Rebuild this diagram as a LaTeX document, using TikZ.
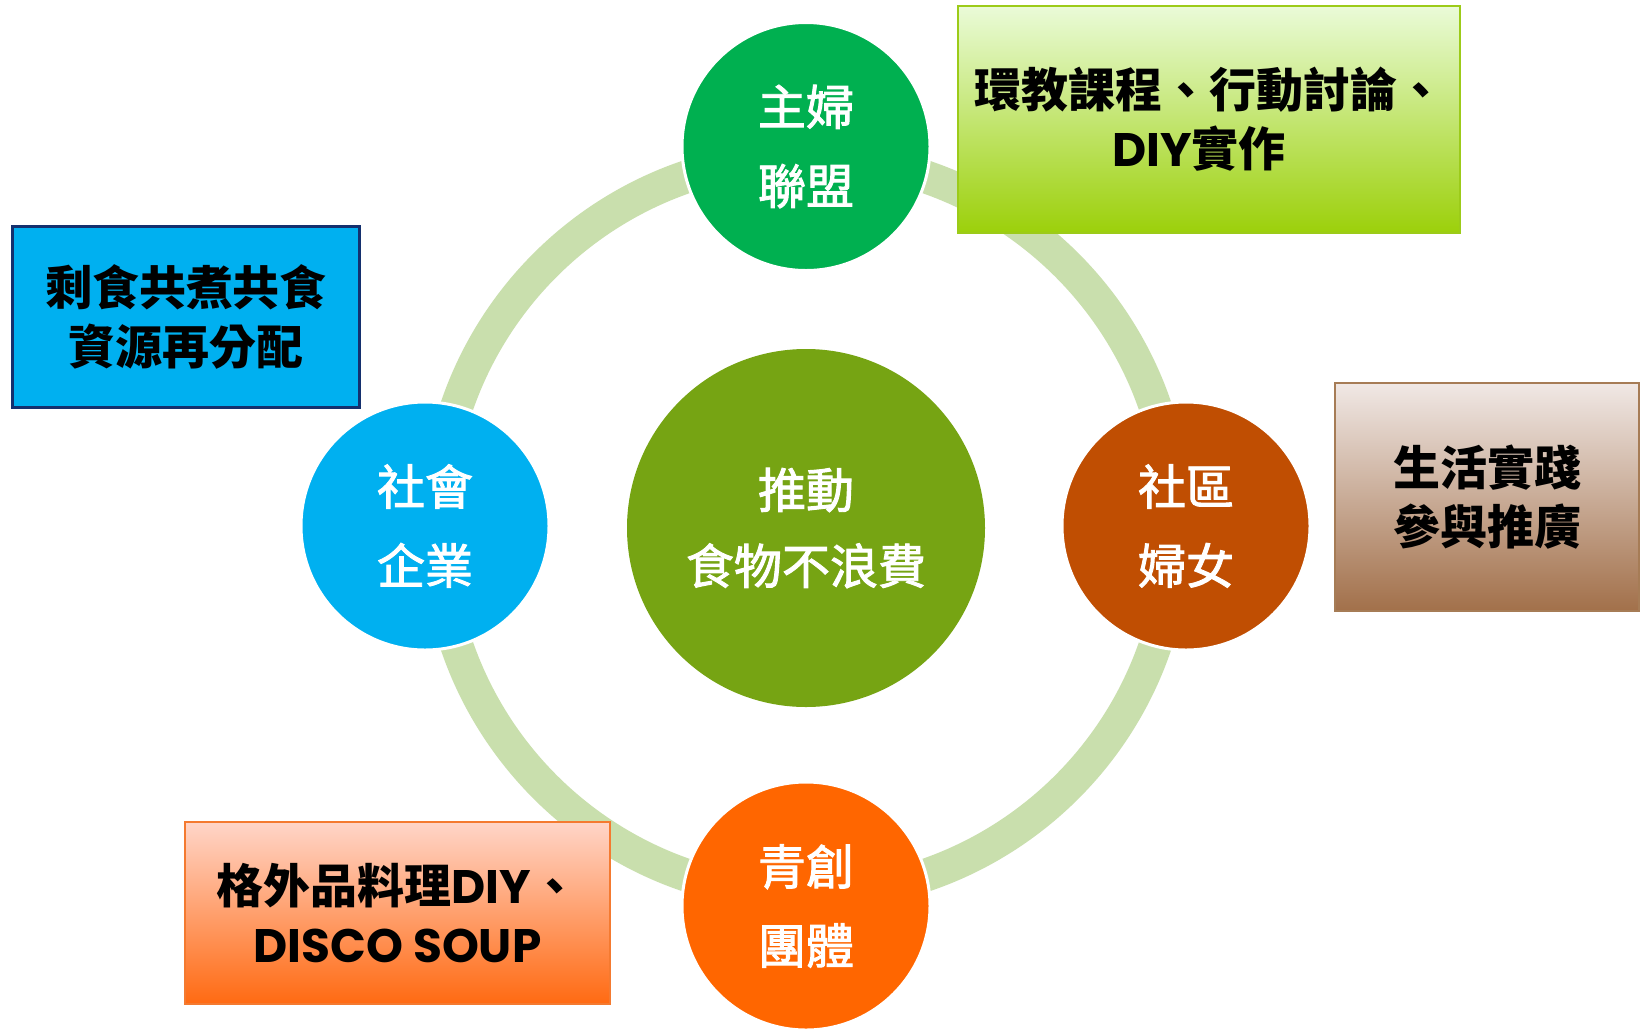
\documentclass[tikz,border=0pt]{standalone}
\usepackage{fontspec}
\setmainfont{Noto Sans CJK TC}
\newfontfamily\cjkmed{Noto Sans CJK TC}[FakeBold=2]
\newfontfamily\latb{Poppins}
\definecolor{ringc}{HTML}{C9DFAD}
\definecolor{hubc}{HTML}{76A413}
\definecolor{topc}{HTML}{00B050}
\definecolor{leftc}{HTML}{00B0F0}
\definecolor{rightc}{HTML}{C04E02}
\definecolor{botc}{HTML}{FF6600}
\definecolor{gt}{HTML}{EAFBD8}
\definecolor{gm}{HTML}{C8F474}
\definecolor{gb}{HTML}{9CD00A}
\definecolor{gbord}{HTML}{9CCB19}
\definecolor{bt}{HTML}{F0E8E5}
\definecolor{bm}{HTML}{D6B39D}
\definecolor{bb}{HTML}{A2704A}
\definecolor{bbord}{HTML}{A67C56}
\definecolor{ot}{HTML}{FFD5C8}
\definecolor{om}{HTML}{FF9A6A}
\definecolor{ob}{HTML}{FF6A12}
\definecolor{obord}{HTML}{F47A30}
\definecolor{blbord}{HTML}{14306E}
\begin{document}
\begin{tikzpicture}[x=1pt,y=-1pt,
  ring/.style={draw=ringc, line width=33pt},
  bubble/.style={circle, draw=white, line width=3pt, minimum size=248pt, inner sep=0pt,
    text=white, align=center, font=\cjkmed\fontsize{48}{79}\selectfont},
  infobox/.style={rectangle, inner sep=0pt, align=center,
    font=\bfseries\fontsize{47}{59}\selectfont, text=black}]
\useasboundingbox (0,0) rectangle (1641,1029);
\fill[white] (0,0) rectangle (1641,1029);
\coordinate (o) at (806,526);
\draw[ring] (o) circle (369pt);
\node[circle, fill=hubc, minimum size=358pt, inner sep=0pt, text=white, align=center,
  font=\cjkmed\fontsize{48}{76}\selectfont] (hub) at (806,528) {推動\\食物不浪費};
\node[bubble, fill=topc] (top) at (806,146.5) {主婦\\聯盟};
\node[bubble, fill=leftc] (left) at (425,526) {社會\\企業};
\node[bubble, fill=rightc] (right) at (1186,526) {社區\\婦女};
\node[bubble, fill=botc] (bot) at (806,906) {青創\\團體};
\node[infobox, draw=gbord, line width=2pt, top color=gt, middle color=gm, bottom color=gb,
  minimum width=502pt, minimum height=227pt] (gbox) at (1209,119.5)
  {環教課程、行動討論、\\{\latb\bfseries DIY}實作\hspace*{20pt}};
\node[infobox, draw=blbord, line width=3pt, fill=leftc,
  minimum width=347pt, minimum height=181pt] (lbox) at (186,316.5)
  {剩食共煮共食\\資源再分配};
\node[infobox, draw=bbord, line width=2pt, top color=bt, middle color=bm, bottom color=bb,
  minimum width=304pt, minimum height=228pt] (rbox) at (1487,497)
  {生活實踐\\參與推廣};
\node[infobox, draw=obord, line width=2pt, top color=ot, middle color=om, bottom color=ob,
  minimum width=425pt, minimum height=182pt] (obox) at (397.5,913)
  {格外品料理{\latb\bfseries DIY}、\\{\latb\bfseries DISCO SOUP}};
\end{tikzpicture}
\end{document}
